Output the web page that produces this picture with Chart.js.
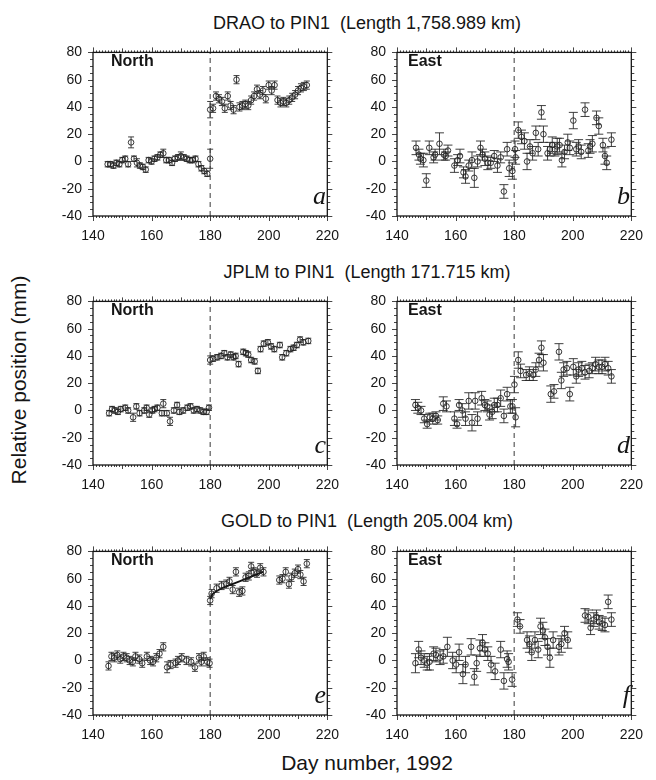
<!DOCTYPE html>
<html><head><meta charset="utf-8">
<script src="https://cdn.jsdelivr.net/npm/chart.js@4.4.1/dist/chart.umd.min.js"></script>
<style>
html,body{margin:0;padding:0;background:#fff;}
body{width:656px;height:780px;overflow:hidden;position:relative;font-family:"Liberation Sans",Arial,Helvetica,sans-serif;color:#151515;}
canvas{position:absolute;}
.t{position:absolute;white-space:pre;transform:translate(-50%,-50%);font-size:18px;}
.comp{position:absolute;font-weight:bold;font-size:16px;transform:translateY(-50%);}
.let{position:absolute;font-family:"Liberation Serif","Times New Roman",serif;font-style:italic;font-size:26px;transform:translate(-100%,-100%);line-height:1;}
.yt{position:absolute;font-size:21px;white-space:pre;transform:translate(-50%,-50%) rotate(-90deg);}
.xt{position:absolute;font-size:21px;white-space:pre;transform:translate(-50%,-50%);}
</style></head><body>
<script>
// ---------- data ----------
const rowTitles = ["DRAO to PIN1  (Length 1,758.989 km)", "JPLM to PIN1  (Length 171.715 km)", "GOLD to PIN1  (Length 205.004 km)"];
const xTicks = [140,160,180,200,220];
const yTicks = [-40,-20,0,20,40,60,80];
const eventDay = 180;
const yAxisTitle = "Relative position (mm)";
const xAxisTitle = "Day number, 1992";

// a: DRAO North
const aDay = [145,146,147,148,149,150,151,152,153,154, 155,156,157,158,159,160,161,162,163,164, 165,166,167,168,169,170,171,172,173,174, 175,176,177,178,179,180,
              180,181,182,183,184,185,186,187,188,189, 190,191,192,193,194,195,196,197,198,199, 200,201,202,203,204,205,206,207,208,209, 210,211,212,213];
const aVal = [-2,-2,-3,-1,-2,1,2,-2,14,2, -1,-3,-4,-6,1,0,2,3,5,6, 1,1,-1,2,3,4,3,2,1,1, 2,-2,-5,-7,-9,2,
              38,39,48,46,44,39,48,41,38,60, 40,41,42,41,45,48,53,49,52,46, 56,52,56,45,43,44,43,45,47,49, 52,54,55,56];
const aErr = [2,2,2,2,2,2,2,2,4,2, 3,2,2,2,2,2,2,2,2,3, 2,2,2,2,2,3,2,2,2,2, 2,2,2,2,2,7,
              6,3,3,3,3,3,3,3,3,3, 3,3,3,3,3,3,3,3,3,3, 3,3,3,3,3,3,3,3,3,3, 3,3,3,3];

// b: DRAO East
const bDay = [146.5,147.5,148,149,150,151,152.5,153,154.5,156, 156.6,157.4,159.6,160.7,161.5,162.7,163.4,164.5,165.6,166.4,
              167.5,168.5,169.2,170,171,172,173.2,174.3,175.4,176.5, 177.6,178.3,179.4,180.3,180.5,181.4,182.5,183.5,184.4,185.4,
              186.3,187.4,188.2,189.3,190,191.4,192.2,193,193.9,194.7, 195.5,196.3,197.2,198.3,199,200.2,201.2,202,202.9,204.2,
              205.3,205.9,206.7,208.1,208.9,210.3,211,211.6,213.2];
const bVal = [10,5,2,1,-14,10,3,5,13,5, 4,8,-3,1,4,-8,-11,-3,1,-12, 0,10,5,2,-1,-1,4,-3,3,-22,
              9,-5,-7,9,3,23,18,15,0,11, 6,21,9,36,20,6,9,12,9,11, 12,1,7,14,10,30,9,11,7,38, 8,11,13,32,26,12,4,-1,16];
const bErr = [5,4,4,5,5,5,4,4,8,4, 3,4,5,4,5,4,5,4,6,7, 4,5,4,5,5,4,4,5,4,5,
              5,6,6,6,5,6,5,6,6,5, 5,5,5,5,6,5,5,6,5,6, 5,5,5,6,5,6,5,5,5,5, 5,5,6,5,6,5,6,5,5];

// c: JPLM North
const cDay = [145.5,146.5,147.5,148.5,149.5,151,152,153.7,154.8,155.9, 157.5,158.3,159.2,160.3,161,162,163.5,164,165.2,166.3,
              167.6,168.7,169.5,170.8,172.2,173.3,174.4,175.5,176.6,177.7, 178.8,179.6,
              180,181,182.4,183.7,184.8,185.9,187,188,188.7,189.7, 191.3,192.2,193,194,195.2,196.3,197.2,198.3,199.7,200.8,
              201.9,203.8,204.6,206,207.4,208.5,209.6,210.7,211.8,213.5];
const cVal = [-2,1,0,-1,1,2,0,-5,3,-2, 0,2,-3,0,1,2,-2,5,-2,-8, 0,4,-1,0,2,3,0,1,0,-1, -1,2,
              37,38,39,40,42,39,41,39,40,34, 43,42,41,37,36,29,45,49,50,47, 45,48,39,42,45,46,48,52,50,51];
const cErr = [2,2,2,2,2,2,2,3,2,2, 2,2,2,2,2,2,2,3,2,3, 2,2,2,2,2,2,2,2,2,2, 2,2,
              3,2,2,2,2,2,2,2,2,2, 2,2,2,2,2,2,2,2,2,2, 2,2,2,2,2,2,2,2,2,2];

// d: JPLM East
const dDay = [146.3,147.1,148.2,149.3,150.3,151.2,152.2,153.3,153.9,155.8, 156.9,159.6,160.5,161.2,162.3,163.4,164.5,165.6,166.7,167.5,
              168.9,170,170.8,171.6,172.5,173.2,174.3,175.4,176.5,177.6, 178.7,179.4,180.1,180.5,181.4,182.2,184.1,185.2,186.5,187.4,
              188.5,189.3,190,192.5,193.6,195.3,196.1,196.9,198,199, 200.2,201.2,202,203.1,204.2,205.6,206.7,207.8,208.9,210,
              211,212.1,213.2];
const dVal = [4,2,0,-6,-10,-5,-6,-4,-7,5, 3,-6,-10,4,0,-6,7,-9,7,-6, 9,4,3,-3,-1,4,4,9,-4,12,
              3,3,19,-5,37,29,26,27,26,30, 37,46,35,12,14,43,22,30,31,12, 32,25,30,31,28,29,31,34,32,32, 34,31,25];
const dErr = [4,4,3,3,3,3,4,3,3,5, 4,5,3,4,5,5,6,6,6,5, 5,4,4,4,5,5,5,6,5,5,
              5,5,6,7,6,5,4,5,4,5, 5,5,6,6,5,6,6,5,5,5, 6,5,5,5,5,5,4,5,5,5, 5,5,5];

// e: GOLD North
const eDay = [145.3,146.3,147.3,148.3,149.3,150.4,151.5,152.5,153.6,154.5, 155.8,156.8,158.4,159.5,160.5,161.6,162.7,164,165.3,166.5,
              168.2,169,170.3,171.9,173.5,174.8,176.2,177,177.8,179, 179.8,
              180,180.5,182.2,183.9,185.5,186.6,187.7,188.8,189.9,191, 192.1,193.2,194,194.9,196,197.1,198.2,203.6,204.7,205.8,
              206.9,207.8,208.9,210,210.8,211.9,213];
const eVal = [-4,3,2,4,1,3,2,0,-1,3, 1,-2,3,0,-1,2,5,10,-5,-3, -2,0,2,0,-1,-5,2,-1,3,-1, -2,
              44,49,53,55,56,58,52,65,50,51, 61,62,69,65,64,68,65,59,60,65, 56,61,64,67,63,58,71];
const eErr = [3,3,3,3,3,3,3,3,3,3, 3,3,3,3,3,3,3,3,4,3, 3,3,3,3,3,3,3,3,3,3, 3,
              3,3,3,3,3,3,3,3,3,3, 3,3,3,3,3,3,3,3,3,3, 3,3,3,3,3,3,3];
const eFitDay = [180,181,184,190,198];
const eFitVal = [45,49,53,58,65];

// f: GOLD East
const fDay = [146.3,147.4,148.2,149.3,150.3,151.1,152.5,153.3,154.7,155.8, 157.2,159,160.2,161.2,162.5,163.4,165.3,166.4,167.2,168.3,
              169.2,170,171,172.1,173.5,175.4,176.5,177.6,178.1,179.3, 181.1,182,184.4,185.2,186,187.1,188.2,189,189.8,190.5,
              191.4,192.2,193.3,195.3,196.1,197.2,198.3,204.2,205.3,206.1, 207.2,208.1,209,210.1,211,212.1,213.2];
const fVal = [-2,8,2,0,-2,-1,5,4,2,3, 10,0,-3,6,-10,-3,10,-12,-2,9, 13,8,5,-3,-8,8,-15,1,-1,-14,
              30,25,15,12,6,15,8,25,22,17, 10,2,15,10,12,20,15,33,32,24, 30,32,28,27,26,43,30];
const fErr = [7,6,5,5,5,6,5,5,5,5, 7,6,6,6,7,6,6,6,6,6, 6,5,5,6,6,6,6,6,6,5,
              5,5,6,6,6,6,6,6,6,6, 6,7,6,6,6,5,6,5,5,5, 5,5,5,5,5,5,5];

// ---------- layout ----------
const FONT = '"Liberation Sans", Arial, Helvetica, sans-serif';
Chart.defaults.font.family = FONT;
const frameLeft = [93, 397], frameTop = [45, 294, 544], frameW = 244, frameH = 171;
const PL = 50, PT = 12, PR = 14, PB = 32;
const INK = '#161616';

const panels = [
  {id:'a', comp:'North', row:0, col:0, day:aDay, val:aVal, err:aErr, cap:3},
  {id:'b', comp:'East',  row:0, col:1, day:bDay, val:bVal, err:bErr, cap:4.5},
  {id:'c', comp:'North', row:1, col:0, day:cDay, val:cVal, err:cErr, cap:3},
  {id:'d', comp:'East',  row:1, col:1, day:dDay, val:dVal, err:dErr, cap:4.5},
  {id:'e', comp:'North', row:2, col:0, day:eDay, val:eVal, err:eErr, cap:3, fitDay:eFitDay, fitVal:eFitVal},
  {id:'f', comp:'East',  row:2, col:1, day:fDay, val:fVal, err:fErr, cap:4.5}
];

const errorBars = {
  id:'errorBars',
  beforeDatasetsDraw(chart){
    const {ctx, chartArea:ca, scales:{x, y}} = chart;
    ctx.save();
    ctx.beginPath(); ctx.rect(ca.left, ca.top, ca.width, ca.height); ctx.clip();
    ctx.strokeStyle = '#2a2a2a'; ctx.lineWidth = 0.9;
    chart.data.datasets.forEach(ds => {
      if (!ds.errs) return;
      ds.data.forEach((p, i) => {
        const e = ds.errs[i]; if (e == null) return;
        const px = x.getPixelForValue(p.x);
        const y1 = y.getPixelForValue(p.y - e), y2 = y.getPixelForValue(p.y + e);
        const c = ds.cap;
        ctx.beginPath();
        ctx.moveTo(px, y1); ctx.lineTo(px, y2);
        ctx.moveTo(px - c, y1); ctx.lineTo(px + c, y1);
        ctx.moveTo(px - c, y2); ctx.lineTo(px + c, y2);
        ctx.stroke();
      });
    });
    ctx.restore();
  }
};

const frame = {
  id:'frame',
  afterDraw(chart){
    const {ctx, chartArea:ca, scales:{x, y}} = chart;
    ctx.save();
    ctx.strokeStyle = INK; ctx.lineWidth = 1.3;
    ctx.strokeRect(ca.left, ca.top, ca.width, ca.height);
    ctx.lineWidth = 0.8;
    ctx.beginPath();
    for (let v = x.min; v <= x.max; v += 1) {
      const px = Math.round(x.getPixelForValue(v)) + 0.5;
      const L = v % 20 === 0 ? 5 : (v % 10 === 0 ? 4 : 2);
      ctx.moveTo(px, ca.bottom); ctx.lineTo(px, ca.bottom + L);
      ctx.moveTo(px, ca.top); ctx.lineTo(px, ca.top - L);
    }
    for (let v = y.min; v <= y.max; v += 5) {
      const py = Math.round(y.getPixelForValue(v)) + 0.5;
      const L = v % 20 === 0 ? 5 : 3;
      ctx.moveTo(ca.left, py); ctx.lineTo(ca.left - L, py);
      ctx.moveTo(ca.right, py); ctx.lineTo(ca.right + L, py);
    }
    ctx.stroke();
    ctx.restore();
  }
};

function addDiv(cls, text, left, top){
  const d = document.createElement('div');
  d.className = cls; d.textContent = text;
  d.style.left = left + 'px'; d.style.top = top + 'px';
  document.body.appendChild(d);
  return d;
}

const titleY = [23, 272, 521];
rowTitles.forEach((t, i) => addDiv('t', t, 367, titleY[i]));
addDiv('yt', yAxisTitle, 19, 380);
addDiv('xt', xAxisTitle, 367, 763);

panels.forEach(p => {
  const fl = frameLeft[p.col], ft = frameTop[p.row];
  const cv = document.createElement('canvas');
  const W = PL + frameW + PR, H = PT + frameH + PB;
  cv.width = W; cv.height = H;
  cv.style.left = (fl - PL) + 'px'; cv.style.top = (ft - PT) + 'px';
  cv.style.width = W + 'px'; cv.style.height = H + 'px';
  document.body.appendChild(cv);

  addDiv('comp', p.comp, fl + (p.comp === 'North' ? 18 : 11), ft + 16);
  addDiv('let', p.id, fl + frameW - 11, ft + frameH - 7);

  const datasets = [
    {type:'line', data:[{x:eventDay, y:yTicks[0]}, {x:eventDay, y:yTicks[yTicks.length-1]}],
     borderColor:'#3a3a3a', borderWidth:1, borderDash:[5,4], pointRadius:0, fill:false},
    {type:'scatter', data:p.day.map((d, i) => ({x:d, y:p.val[i]})), errs:p.err, cap:p.cap,
     pointRadius:2.8, pointStyle:'circle', borderColor:'#222', borderWidth:0.9,
     backgroundColor:'rgba(255,255,255,0)'}
  ];
  if (p.fitDay) {
    datasets.push({type:'line', data:p.fitDay.map((d, i) => ({x:d, y:p.fitVal[i]})),
      borderColor:'#111', borderWidth:1.8, pointRadius:0, tension:0.3, fill:false});
  }

  new Chart(cv.getContext('2d'), {
    data:{datasets},
    options:{
      responsive:false, animation:false, devicePixelRatio:1, events:[],
      layout:{padding:{left:0, top:PT, right:PR, bottom:0}},
      plugins:{legend:{display:false}, tooltip:{enabled:false}},
      scales:{
        x:{type:'linear', min:xTicks[0], max:xTicks[xTicks.length-1],
           afterBuildTicks:s => { s.ticks = xTicks.map(v => ({value:v})); },
           ticks:{font:{size:14, family:FONT}, color:INK, padding:12, maxRotation:0, autoSkip:false},
           grid:{display:false, drawTicks:false}, border:{display:false},
           afterFit:s => { s.height = PB; }},
        y:{type:'linear', min:yTicks[0], max:yTicks[yTicks.length-1],
           afterBuildTicks:s => { s.ticks = yTicks.map(v => ({value:v})); },
           ticks:{font:{size:14, family:FONT}, color:INK, padding:11, autoSkip:false},
           grid:{display:false, drawTicks:false}, border:{display:false},
           afterFit:s => { s.width = PL; }}
      }
    },
    plugins:[errorBars, frame]
  });
});
</script>
</body></html>
